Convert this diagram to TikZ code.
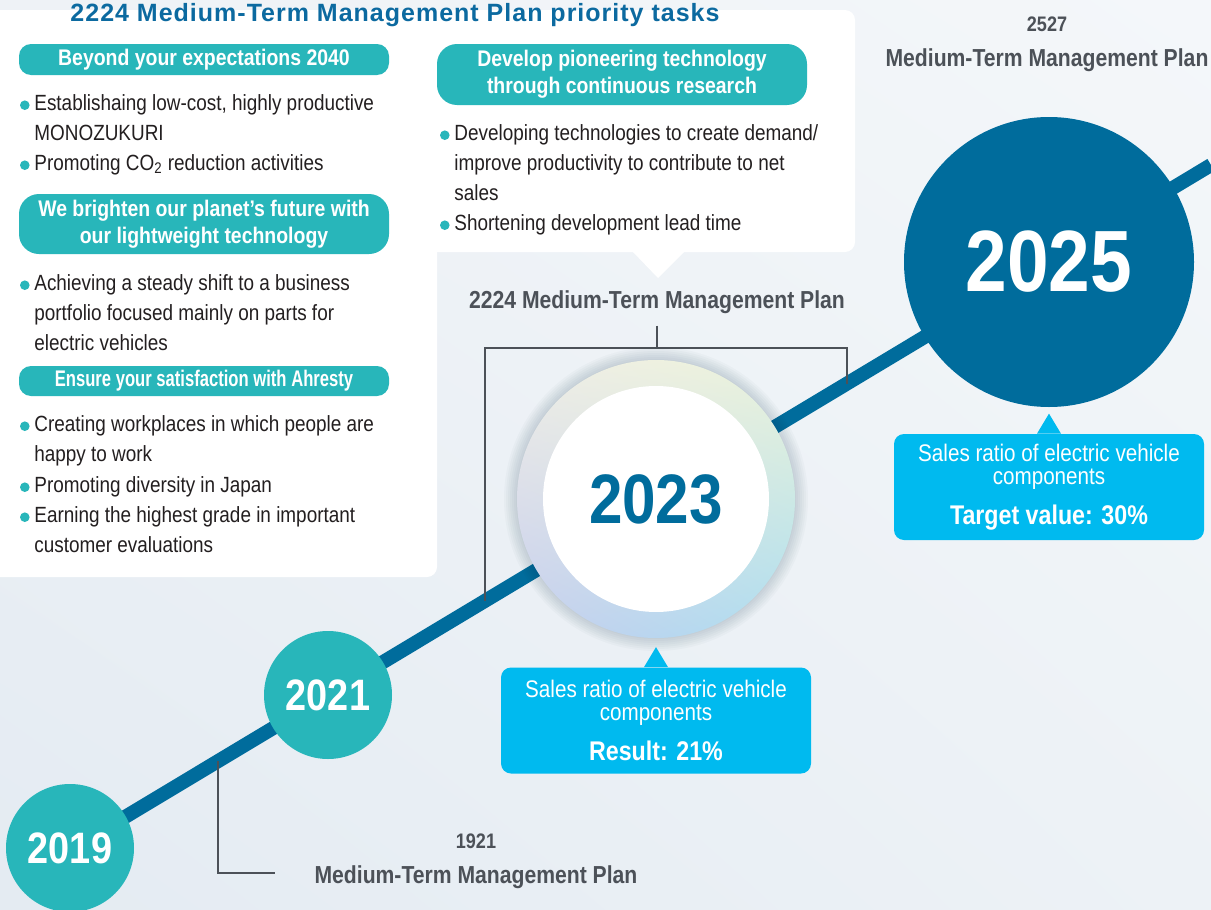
\documentclass[tikz,border=0pt]{standalone}
\usepackage{fontspec}
\setmainfont{Liberation Sans}[FakeStretch=0.86]
\newfontfamily\headfont{Liberation Sans}[LetterSpace=4]
\usetikzlibrary{positioning, calc, shadings}

\definecolor{tealc}{RGB}{40,182,186}
\definecolor{bluec}{RGB}{0,108,156}
\definecolor{cyanc}{RGB}{0,186,239}
\definecolor{titlec}{RGB}{12,106,160}
\definecolor{planc}{RGB}{76,81,88}
\definecolor{ink}{RGB}{35,31,32}
% background and ring tints
\definecolor{bgUL}{RGB}{238,242,246}
\definecolor{bgUR}{RGB}{244,247,250}
\definecolor{bgLL}{RGB}{228,235,242}
\definecolor{bgLR}{RGB}{237,242,246}
\definecolor{ringUL}{RGB}{240,238,230}
\definecolor{ringUR}{RGB}{236,243,218}
\definecolor{ringLL}{RGB}{198,206,238}
\definecolor{ringLR}{RGB}{172,222,240}

\begin{document}
\begin{tikzpicture}[x=0.5pt, y=-0.5pt,
  pill/.style={fill=tealc, text=white, rounded corners=6pt, align=center,
    minimum width=185pt, inner sep=0pt,
    font=\bfseries\fontsize{11.3}{13.5}\selectfont},
  item/.style={anchor=north west, align=left, inner sep=0pt, text=ink,
    font=\fontsize{11}{15}\selectfont},
  year/.style={circle, inner sep=0pt, text=white,
    font=\bfseries\fontsize{22}{22}\selectfont},
  plan/.style={anchor=base, inner sep=0pt, text=planc,
    font=\bfseries\fontsize{12.3}{15}\selectfont},
  callout/.style={fill=cyanc, text=white, rounded corners=5pt, align=center,
    minimum width=155pt, minimum height=53pt, inner sep=0pt,
    font=\fontsize{12}{11.5}\selectfont},
  bracket/.style={draw=planc, line width=1pt},
  timeline/.style={draw=bluec, line width=7pt}]

  \clip (0,0) rectangle (1211,910);
  \useasboundingbox (0,0) rectangle (1211,910);

  % background
  \shade[upper left=bgUL, upper right=bgUR, lower left=bgLL, lower right=bgLR]
    (0,0) rectangle (1211,910);

  % white panel with the priority tasks
  \fill[white, rounded corners=5pt] (-20,10) rectangle (855,252);
  \fill[white, rounded corners=5pt] (-20,10) rectangle (437,577);
  \fill[white] (632,251) -- (685,251) -- (658,278) -- cycle;

  \node[anchor=base, text=titlec, inner sep=0pt,
        font=\headfont\bfseries\fontsize{12.5}{15}\selectfont] (title) at (395,21)
    {2224 Medium-Term Management Plan priority tasks};

  % task headings
  \node[pill, minimum height=15.5pt] (pA) at (204,59.5) {Beyond your expectations 2040};
  \node[pill, minimum height=30pt, rounded corners=10pt] (pB) at (204,224)
    {We brighten our planet’s future with\\our lightweight technology};
  \node[pill, minimum height=15pt] (pC) at (204,381)
    {\scalebox{0.855}[1]{Ensure your satisfaction with Ahresty}};
  \node[pill, minimum height=30.5pt, rounded corners=10pt] (pD) at (622,74.5)
    {Develop pioneering technology\\through continuous research};

  % bullet items (first baseline 16 below the anchor)
  \node[item] (b1) at (34,94) {Establishaing low-cost, highly productive\\MONOZUKURI};
  \node[item] (b2) at (34,154) {Promoting CO\textsubscript{2} reduction activities};
  \node[item] (b3) at (34,274) {Achieving a steady shift to a business\\portfolio focused mainly on parts for\\electric vehicles};
  \node[item] (b4) at (34,415) {Creating workplaces in which people are\\happy to work};
  \node[item] (b5) at (34,476) {Promoting diversity in Japan};
  \node[item] (b6) at (34,506) {Earning the highest grade in important\\customer evaluations};
  \node[item] (b7) at (454,124) {Developing technologies to create demand/\\improve productivity to contribute to net\\sales};
  \node[item] (b8) at (454,214) {Shortening development lead time};
  \foreach \b in {b1,b2,b3,b4,b5,b6,b7,b8}
    \fill[tealc] ([xshift=-4.6pt, yshift=-5.6pt]\b.north west) circle (2.4pt);

  % timeline
  \coordinate (p19) at (70,850);
  \coordinate (pend) at (1211,165);
  \draw[timeline] (p19) -- (pend)
    coordinate[pos=0.1297] (t19) coordinate[pos=0.3637] (t22l)
    coordinate[pos=0.6810] (t22r);

  % plan brackets
  \node[plan] (plan22) at (657,308) {2224 Medium-Term Management Plan};
  \coordinate (k22) at (657,348);
  \draw[bracket] ([yshift=-6pt]plan22.south) -- (k22);
  \draw[bracket] (t22l) -- (t22l |- k22) -- (t22r |- k22) -- (t22r);
  \coordinate (k19) at (275,873);
  \draw[bracket] (t19) |- (k19);

  \node[plan, font=\bfseries\fontsize{10.5}{12}\selectfont] (plan19a) at (476,848) {1921};
  \node[plan] (plan19b) at (476,883) {Medium-Term Management Plan};
  \node[plan, font=\bfseries\fontsize{10.5}{12}\selectfont] (plan25a) at (1047,32) {2527};
  \node[plan] (plan25b) at (1047,66) {Medium-Term Management Plan};

  % years
  \node[year, fill=tealc, minimum size=64pt] (y19) at (70,848) {2019};
  \node[year, fill=tealc, minimum size=64pt] (y21) at (328,695) {2021};

  \coordinate (c23) at (656,499);
  \foreach \r in {70,71,...,76}
    \fill[bluec!40!black, opacity=0.025] (c23) circle (\r pt);
  \shade[upper left=ringUL, upper right=ringUR, lower left=ringLL, lower right=ringLR]
    (c23) circle (69.5pt);
  \node[year, fill=white, text=bluec, minimum size=113pt,
        font=\bfseries\fontsize{35}{35}\selectfont] (y23) at (c23) {2023};

  \node[year, fill=bluec, minimum size=145pt,
        font=\bfseries\fontsize{43.5}{43.5}\selectfont] (y25) at (1049,262) {2025};

  % sales ratio call-outs
  \node[callout] (s23) at (656,720.5)
    {Sales ratio of electric vehicle\\components\\[7pt]{\bfseries\fontsize{13.5}{14}\selectfont Result: 21\%}};
  \fill[cyanc] ([xshift=-6pt]s23.north) -- ([yshift=10pt]s23.north) -- ([xshift=6pt]s23.north) -- cycle;

  \node[callout] (s25) at (1049,487)
    {Sales ratio of electric vehicle\\components\\[7pt]{\bfseries\fontsize{13.5}{14}\selectfont Target value: 30\%}};
  \fill[cyanc] ([xshift=-6pt]s25.north) -- ([yshift=10pt]s25.north) -- ([xshift=6pt]s25.north) -- cycle;
\end{tikzpicture}
\end{document}
